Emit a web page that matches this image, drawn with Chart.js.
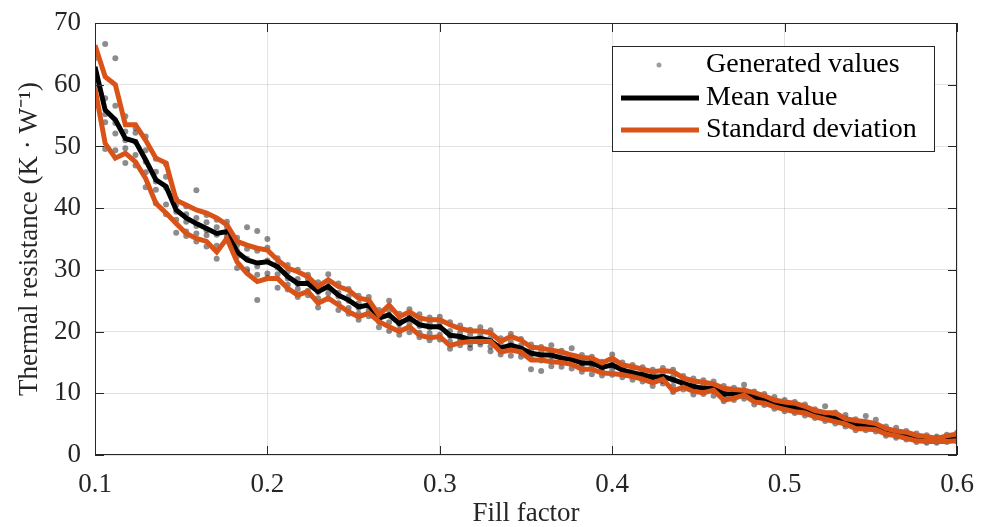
<!DOCTYPE html>
<html>
<head>
<meta charset="utf-8">
<script src="https://cdn.jsdelivr.net/npm/chart.js@4.4.1/dist/chart.umd.min.js"></script>
<style>
    html, body { margin: 0; padding: 0; background: #fff; }
    #wrap { width: 982px; height: 527px; }
</style>
</head>
<body>
<div id="wrap"><canvas id="chart" width="982" height="527"></canvas></div>
<script>
// Fill factor samples (86 steps from 0.1 to 0.6)
const fillFactor = [
    0.1000, 0.1059, 0.1118, 0.1176, 0.1235, 0.1294, 0.1353, 0.1412, 0.1471, 0.1529, 0.1588, 0.1647, 0.1706, 0.1765, 0.1824, 0.1882, 0.1941,
    0.2000, 0.2059, 0.2118, 0.2176, 0.2235, 0.2294, 0.2353, 0.2412, 0.2471, 0.2529, 0.2588, 0.2647, 0.2706, 0.2765, 0.2824, 0.2882, 0.2941,
    0.3000, 0.3059, 0.3118, 0.3176, 0.3235, 0.3294, 0.3353, 0.3412, 0.3471, 0.3529, 0.3588, 0.3647, 0.3706, 0.3765, 0.3824, 0.3882, 0.3941,
    0.4000, 0.4059, 0.4118, 0.4176, 0.4235, 0.4294, 0.4353, 0.4412, 0.4471, 0.4529, 0.4588, 0.4647, 0.4706, 0.4765, 0.4824, 0.4882, 0.4941,
    0.5000, 0.5059, 0.5118, 0.5176, 0.5235, 0.5294, 0.5353, 0.5412, 0.5471, 0.5529, 0.5588, 0.5647, 0.5706, 0.5765, 0.5824, 0.5882, 0.5941,
    0.6000
];

// Mean thermal resistance (K/W)
const meanValue = [
    62.9, 55.9, 54.3, 51.3, 50.8, 47.8, 44.6, 43.5, 39.7, 38.4, 37.5, 36.7, 35.9, 36.2, 32.9, 31.6, 31.1,
    31.3, 30.5, 28.9, 27.8, 27.8, 26.5, 27.3, 25.9, 25.1, 24.0, 24.3, 22.2, 22.7, 21.3, 22.2, 21.1, 20.8,
    20.8, 19.4, 19.2, 18.7, 18.9, 18.5, 17.3, 17.8, 17.3, 16.5, 16.2, 16.2, 15.7, 15.5, 14.9, 14.9, 14.2,
    14.6, 13.8, 13.3, 13.0, 12.6, 12.7, 12.2, 11.6, 11.1, 10.8, 10.8, 9.9, 9.9, 10.0, 9.4, 9.0, 8.5,
    7.9, 7.7, 7.3, 6.8, 6.3, 5.9, 5.4, 4.9, 4.9, 4.6, 3.9, 3.5, 3.2, 2.7, 2.5, 2.5, 2.7,
    2.7
];

// Mean + standard deviation
const upperStd = [
    66.4, 61.3, 60.0, 53.5, 53.5, 51.0, 48.1, 47.3, 41.3, 40.5, 39.7, 39.2, 38.4, 37.3, 34.6, 34.0, 33.5,
    33.2, 31.6, 30.3, 29.7, 28.9, 27.3, 28.4, 27.3, 26.7, 25.4, 25.1, 22.7, 24.3, 22.4, 23.2, 22.2, 21.9,
    21.9, 21.1, 20.5, 20.1, 20.1, 19.8, 18.4, 19.2, 18.6, 17.5, 17.3, 17.0, 16.7, 16.2, 15.8, 15.7, 14.9,
    15.7, 14.6, 14.3, 13.9, 13.5, 13.7, 13.5, 12.5, 12.0, 11.8, 11.5, 10.8, 10.6, 10.5, 10.1, 9.6, 8.9,
    8.6, 8.4, 7.9, 7.2, 6.9, 6.8, 5.9, 5.6, 5.4, 5.1, 4.3, 3.9, 3.7, 3.2, 3.0, 2.7, 3.1,
    3.4
];

// Mean - standard deviation
const lowerStd = [
    59.4, 50.5, 48.1, 48.9, 47.5, 44.8, 40.8, 39.2, 37.5, 35.9, 35.1, 34.6, 32.9, 35.1, 31.3, 29.4, 28.1,
    28.6, 28.6, 27.0, 25.9, 26.5, 24.6, 25.4, 24.3, 23.2, 22.4, 23.0, 21.6, 20.8, 20.0, 20.8, 19.4, 19.0,
    19.2, 17.7, 18.2, 18.4, 18.4, 18.4, 16.7, 17.0, 16.7, 15.4, 15.4, 15.1, 15.0, 14.7, 13.9, 13.9, 13.3,
    13.2, 13.0, 12.7, 12.3, 11.7, 12.3, 10.4, 11.0, 10.3, 10.1, 10.5, 8.9, 9.2, 9.7, 8.6, 8.4, 7.8,
    7.4, 7.0, 6.8, 6.2, 5.8, 5.4, 5.0, 4.3, 4.2, 4.1, 3.4, 3.1, 2.7, 2.3, 2.2, 2.2, 2.2,
    2.3
];

// Generated values, five runs per fill factor
const genRun1 = [
    65.0, 66.6, 64.3, 54.9, 53.0, 51.6, 48.0, 47.1, 41.5, 40.3, 42.9, 38.9, 38.1, 37.8, 35.2, 36.9, 36.3,
    35.0, 31.9, 30.8, 30.0, 29.2, 28.0, 29.3, 27.8, 26.9, 25.8, 25.6, 23.5, 25.0, 22.9, 23.6, 22.8, 22.3,
    22.4, 21.5, 21.0, 20.3, 20.7, 20.2, 18.9, 19.6, 18.8, 17.9, 17.5, 17.8, 16.9, 17.3, 16.2, 15.9, 15.1,
    16.3, 15.0, 14.6, 14.2, 13.8, 14.1, 13.8, 12.8, 12.4, 12.1, 11.9, 11.2, 10.9, 11.4, 10.3, 9.9, 9.4,
    8.9, 8.6, 8.2, 7.4, 7.9, 6.9, 6.5, 5.8, 6.3, 5.7, 4.6, 4.4, 3.9, 3.5, 3.2, 3.0, 3.3,
    3.6
];
const genRun2 = [
    64.3, 57.8, 56.6, 52.4, 52.2, 49.4, 45.9, 45.1, 40.5, 39.0, 38.4, 37.7, 36.9, 37.0, 34.0, 33.4, 33.1,
    33.6, 31.0, 29.7, 28.5, 28.5, 27.1, 28.0, 26.3, 25.7, 24.6, 24.8, 22.8, 23.4, 21.8, 22.7, 21.6, 21.3,
    21.4, 20.1, 19.8, 19.5, 19.4, 19.0, 17.9, 18.3, 17.8, 17.0, 16.8, 16.7, 16.2, 16.0, 15.3, 15.3, 14.6,
    15.2, 14.1, 13.8, 13.4, 13.1, 13.2, 12.7, 12.0, 11.6, 11.3, 11.2, 10.3, 10.3, 10.5, 9.8, 9.3, 8.8,
    8.3, 8.0, 7.7, 7.0, 6.7, 6.3, 5.9, 5.2, 5.3, 4.9, 4.1, 3.8, 3.5, 3.0, 2.8, 2.7, 2.9,
    3.0
];
const genRun3 = [
    61.8, 55.2, 53.8, 51.0, 50.7, 47.5, 44.3, 43.3, 39.4, 37.8, 37.1, 36.4, 35.7, 36.1, 33.1, 31.8, 30.6,
    31.5, 30.4, 28.6, 27.7, 27.9, 26.4, 27.1, 25.7, 25.0, 23.8, 24.1, 22.1, 22.6, 21.2, 22.0, 20.9, 20.6,
    20.7, 19.3, 19.1, 18.5, 18.8, 18.4, 17.2, 17.6, 17.2, 16.4, 16.1, 16.0, 15.6, 15.4, 14.8, 14.8, 14.1,
    14.5, 13.7, 13.2, 12.9, 12.5, 12.6, 12.1, 11.5, 11.0, 10.7, 10.8, 9.8, 9.9, 10.0, 9.3, 8.9, 8.4,
    7.9, 7.6, 7.3, 6.8, 6.3, 5.9, 5.4, 4.9, 4.8, 4.6, 3.9, 3.5, 3.2, 2.7, 2.5, 2.4, 2.7,
    2.7
];
const genRun4 = [
    59.5, 53.9, 52.1, 49.7, 48.6, 45.8, 43.0, 40.6, 38.1, 36.2, 35.9, 35.6, 33.9, 35.4, 32.2, 30.1, 29.2,
    29.4, 29.3, 27.6, 26.9, 26.6, 25.4, 26.2, 24.6, 23.8, 22.9, 23.4, 21.6, 21.5, 20.3, 21.2, 19.8, 19.7,
    19.5, 18.4, 18.6, 17.9, 18.3, 17.6, 16.9, 17.1, 16.6, 15.7, 15.3, 15.2, 15.0, 14.8, 14.2, 14.2, 13.6,
    13.9, 13.2, 12.8, 12.4, 11.9, 12.0, 11.2, 11.1, 10.5, 10.2, 10.4, 9.2, 9.4, 9.6, 8.8, 8.5, 8.0,
    7.5, 7.2, 6.9, 6.4, 5.9, 5.5, 5.0, 4.5, 4.4, 4.2, 3.5, 3.1, 2.8, 2.4, 2.2, 2.2, 2.4,
    2.4
];
const genRun5 = [
    57.2, 49.6, 49.4, 47.3, 46.9, 43.4, 40.8, 39.0, 36.0, 35.5, 34.6, 33.8, 31.8, 34.9, 30.3, 29.6, 25.1,
    28.7, 27.1, 26.8, 25.6, 25.9, 23.9, 25.3, 23.5, 22.9, 21.9, 22.5, 20.7, 20.1, 19.5, 19.9, 19.1, 18.6,
    18.7, 17.2, 17.8, 17.3, 17.9, 16.8, 16.3, 16.1, 15.9, 13.9, 13.6, 14.4, 14.3, 14.0, 13.5, 13.1, 12.9,
    13.0, 12.6, 12.2, 11.9, 11.2, 11.6, 10.2, 10.6, 9.8, 9.9, 9.6, 8.7, 8.9, 9.1, 8.2, 8.1, 7.5,
    7.1, 6.8, 6.4, 6.0, 5.5, 5.1, 4.6, 4.0, 4.0, 3.8, 3.1, 2.8, 2.5, 2.1, 2.0, 2.0, 2.1,
    2.2
];

const xTicks = [0.1, 0.2, 0.3, 0.4, 0.5, 0.6];
const yTicks = [0, 10, 20, 30, 40, 50, 60, 70];

const ORANGE = '#D95319';
const AXIS_COLOR = '#262626';
const FONT = 'Liberation Serif';

function toPoints(values) {
    return values.map((v, i) => ({ x: fillFactor[i], y: v }));
}

function generatedPoints() {
    let pts = [];
    [genRun1, genRun2, genRun3, genRun4, genRun5].forEach(run => {
        pts = pts.concat(toPoints(run));
    });
    return pts;
}

// Box around the axes, inward ticks on all four sides, and the legend
const frameAndLegend = {
    id: 'frameAndLegend',
    afterDraw(chart) {
        const { ctx, chartArea: a, scales } = chart;
        const tickLen = 9;
        ctx.save();
        ctx.strokeStyle = AXIS_COLOR;
        ctx.lineWidth = 1;
        ctx.strokeRect(a.left + 0.5, a.top + 0.5, a.right - a.left - 1, a.bottom - a.top - 1);

        ctx.beginPath();
        xTicks.forEach(t => {
            const px = Math.round(scales.x.getPixelForValue(t)) + 0.5;
            ctx.moveTo(px, a.bottom);
            ctx.lineTo(px, a.bottom - tickLen);
            ctx.moveTo(px, a.top);
            ctx.lineTo(px, a.top + tickLen);
        });
        yTicks.forEach(t => {
            const py = Math.round(scales.y.getPixelForValue(t)) + 0.5;
            ctx.moveTo(a.left, py);
            ctx.lineTo(a.left + tickLen, py);
            ctx.moveTo(a.right, py);
            ctx.lineTo(a.right - tickLen, py);
        });
        ctx.stroke();

        // legend
        const box = { left: 612, top: 46, width: 322, height: 105 };
        ctx.fillStyle = '#fff';
        ctx.fillRect(box.left, box.top, box.width, box.height);
        ctx.strokeStyle = AXIS_COLOR;
        ctx.strokeRect(box.left + 0.5, box.top + 0.5, box.width, box.height);

        const rows = [65, 98, 130];
        ctx.fillStyle = 'rgba(0,0,0,0.38)';
        ctx.beginPath();
        ctx.arc(659, rows[0], 2.5, 0, Math.PI * 2);
        ctx.fill();

        ctx.lineWidth = 5;
        ctx.strokeStyle = '#000';
        ctx.beginPath();
        ctx.moveTo(621, rows[1]);
        ctx.lineTo(699, rows[1]);
        ctx.stroke();
        ctx.strokeStyle = ORANGE;
        ctx.beginPath();
        ctx.moveTo(621, rows[2]);
        ctx.lineTo(699, rows[2]);
        ctx.stroke();

        ctx.fillStyle = '#000';
        ctx.font = `28px "${FONT}"`;
        ctx.textBaseline = 'middle';
        ctx.textAlign = 'left';
        const labels = chart.data.datasets.map(d => d.label);
        ctx.fillText(labels[0], 706, rows[0]);
        ctx.fillText(labels[1], 706, rows[1]);
        ctx.fillText(labels[2], 706, rows[2]);
        ctx.restore();
    }
};

document.addEventListener('DOMContentLoaded', () => {
    Chart.defaults.font.family = FONT;
    Chart.defaults.font.size = 27;
    Chart.defaults.color = AXIS_COLOR;

    const ctx = document.getElementById('chart').getContext('2d');
    new Chart(ctx, {
        type: 'scatter',
        data: {
            datasets: [
                {
                    label: 'Generated values',
                    data: generatedPoints(),
                    backgroundColor: 'rgba(0,0,0,0.45)',
                    borderWidth: 0,
                    pointRadius: 3,
                    order: 3
                },
                {
                    label: 'Mean value',
                    data: toPoints(meanValue),
                    showLine: true,
                    borderColor: '#000',
                    borderWidth: 5,
                    pointRadius: 0,
                    order: 2
                },
                {
                    label: 'Standard deviation',
                    data: toPoints(upperStd),
                    showLine: true,
                    borderColor: ORANGE,
                    borderWidth: 5,
                    pointRadius: 0,
                    order: 1
                },
                {
                    label: 'Standard deviation (lower)',
                    data: toPoints(lowerStd),
                    showLine: true,
                    borderColor: ORANGE,
                    borderWidth: 5,
                    pointRadius: 0,
                    order: 1
                }
            ]
        },
        options: {
            responsive: false,
            animation: false,
            events: [],
            layout: { padding: { left: 0, right: 25, top: 23, bottom: 0 } },
            plugins: {
                legend: { display: false },
                tooltip: { enabled: false }
            },
            scales: {
                x: {
                    type: 'linear',
                    min: 0.1,
                    max: 0.6,
                    afterFit: scale => {
                        scale.height = 72;
                        scale.paddingLeft = 0;
                        scale.paddingRight = 0;
                    },
                    afterBuildTicks: scale => { scale.ticks = xTicks.map(v => ({ value: v })); },
                    ticks: {
                        padding: 14,
                        maxRotation: 0,
                        callback: v => v.toFixed(1)
                    },
                    grid: { color: 'rgba(0,0,0,0.11)', drawTicks: false },
                    border: { display: false },
                    title: {
                        display: true,
                        text: 'Fill factor',
                        font: { lineHeight: 1 },
                        padding: { top: 0, bottom: 0 }
                    }
                },
                y: {
                    min: 0,
                    max: 70,
                    afterFit: scale => {
                        scale.width = 95;
                        scale.paddingTop = 0;
                        scale.paddingBottom = 0;
                    },
                    afterBuildTicks: scale => { scale.ticks = yTicks.map(v => ({ value: v })); },
                    ticks: { padding: 14 },
                    grid: { color: 'rgba(0,0,0,0.11)', drawTicks: false },
                    border: { display: false },
                    title: {
                        display: true,
                        text: 'Thermal resistance (K · W⁻¹)',
                        padding: { top: 14, bottom: 0 }
                    }
                }
            }
        },
        plugins: [frameAndLegend]
    });
});
</script>
</body>
</html>
